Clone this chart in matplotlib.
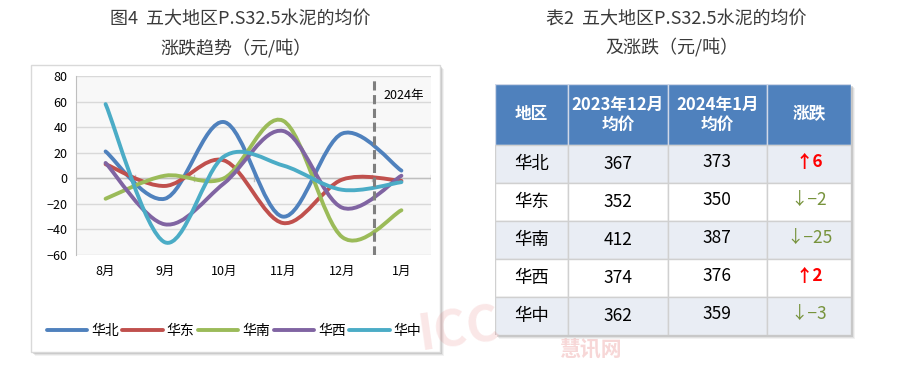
import numpy as np
import matplotlib
matplotlib.use("Agg")
import matplotlib.pyplot as plt
from matplotlib.path import Path
from matplotlib.patches import PathPatch, Rectangle
from matplotlib.lines import Line2D

plt.rcParams['font.family'] = ['Noto Sans CJK SC', 'DejaVu Sans']

# chart data (元/吨 change per month)
months = ['8月', '9月', '10月', '11月', '12月', '1月']
regions = ['华北', '华东', '华南', '华西', '华中']
huabei = [21, -16, 44, -30, 35, 6]
huadong = [11, -6, 14, -35, -1, -2]
huanan = [-16, 2, 0, 45, -46, -25]
huaxi = [12, -36, -4, 37, -23, 2]
huazhong = [58, -50, 17, 10, -9, -3]
colors = ['#4F81BD', '#C0504D', '#9BBB59', '#8064A2', '#4BACC6']

# table data
header = ['地区', '2023年12月\n均价', '2024年1月\n均价', '涨跌']
price_dec = [367, 352, 412, 374, 362]
price_jan = [373, 350, 387, 376, 359]
change = [6, -2, -25, 2, -3]

W, H = 900, 366
fig = plt.figure(figsize=(W / 100, H / 100), dpi=100)


def fx(px):
    return px / W


def fy(py):
    return 1 - py / H


def box(x0, y0, x1, y1, **kw):
    # rectangle in figure pixel coords (top-left origin)
    r = Rectangle((fx(x0), fy(y1)), fx(x1) - fx(x0), fy(y0) - fy(y1),
                  transform=fig.transFigure, **kw)
    fig.patches.append(r)
    return r


def smooth_path(xs, ys, k=1 / 6):
    pts = np.column_stack([xs, ys]).astype(float)
    n = len(pts)
    verts = [pts[0]]
    codes = [Path.MOVETO]
    for i in range(n - 1):
        p0 = pts[max(i - 1, 0)]
        p1 = pts[i]
        p2 = pts[i + 1]
        p3 = pts[min(i + 2, n - 1)]
        verts += [p1 + (p2 - p0) * k, p2 - (p3 - p1) * k, p2]
        codes += [Path.CURVE4] * 3
    return Path(verts, codes)


# ---- left chart frame with shadow ----
for d, a in [(4, 0.10), (3, 0.15), (2, 0.25)]:
    box(31 + d, 65 + d, 440 + d, 352 + d, facecolor='#808080', edgecolor='none', alpha=a, zorder=-2)
box(31, 65, 440, 352, facecolor='white', edgecolor='#D9D9D9', lw=1, zorder=-1)

fig.text(fx(240), fy(20), '图4  五大地区P.S32.5水泥的均价', ha='center', va='center',
         fontsize=13, color='#3A3A3A', fontweight='medium')
fig.text(fx(236), fy(48), '涨跌趋势（元/吨）', ha='center', va='center',
         fontsize=13, color='#3A3A3A', fontweight='medium')

ax = fig.add_axes([fx(76), fy(255), fx(431) - fx(76), fy(76) - fy(255)])
ax.set_zorder(2)
ax.set_facecolor('#F8F8F8')
ax.set_xlim(-0.5, 5.5)
ax.set_ylim(-60, 80)
ax.set_yticks(range(-60, 81, 20))
ax.grid(axis='y', color='#D9D9D9', lw=1)
ax.set_axisbelow(True)
for s in ['top', 'right', 'bottom']:
    ax.spines[s].set_visible(False)
ax.spines['left'].set_color('#BFBFBF')
ax.tick_params(axis='y', length=0, labelsize=9, pad=6, labelcolor='#000000')
ax.set_xticks(range(len(months)))
ax.set_xticklabels(months)
ax.tick_params(axis='x', length=0, labelsize=9, pad=7)

# category axis at zero with cross tick marks
ax.axhline(0, color='#BFBFBF', lw=1, zorder=1)
for b in np.arange(0.5, len(months), 1.0):
    ax.plot([b, b], [-2.5, 2.5], color='#BFBFBF', lw=1, zorder=1)

x = np.arange(len(months))
series = [huabei, huadong, huanan, huaxi, huazhong]
handles = []
for ys, c, name in zip(series, colors, regions):
    ax.add_patch(PathPatch(smooth_path(x, ys), facecolor='none', edgecolor=c,
                           lw=2.8, capstyle='round', zorder=3))
    handles.append(Line2D([], [], color=c, lw=2.8, solid_capstyle='round'))

ax.plot([4.53, 4.53], [-60, 77], color='#7F7F7F', lw=2.2, ls=(0, (3, 1.5)), zorder=4)
ax.text(4.7, 65, '2024年', fontsize=9, va='center', ha='left', zorder=5)

fig.legend(handles, regions, loc='center', bbox_to_anchor=(fx(234), fy(331)), ncol=5,
           frameon=False, fontsize=10, handlelength=2.9, handletextpad=0.3,
           columnspacing=0.25)

# ---- right table ----
fig.text(fx(676), fy(20), '表2  五大地区P.S32.5水泥的均价', ha='center', va='center',
         fontsize=13, color='#3A3A3A', fontweight='medium')
fig.text(fx(672), fy(47), '及涨跌（元/吨）', ha='center', va='center',
         fontsize=13, color='#3A3A3A', fontweight='medium')

for d, a in [(4, 0.10), (3, 0.15), (2, 0.25)]:
    box(495 + d, 84 + d, 851 + d, 335 + d, facecolor='#808080', edgecolor='none', alpha=a, zorder=-2)

tax = fig.add_axes([fx(495), fy(335), fx(851) - fx(495), fy(84) - fy(335)])
tax.set_zorder(2)
tax.set_xlim(0, 356)
tax.set_ylim(251, 0)
tax.axis('off')

col_w = [73, 99.5, 99.5, 84]
col_x = np.concatenate([[0], np.cumsum(col_w)])
head_h = 61
row_h = (251 - head_h) / len(regions)

for j, label in enumerate(header):
    tax.add_patch(Rectangle((col_x[j], 0), col_w[j], head_h, facecolor='#4F81BD',
                            edgecolor='#D0D8E8', lw=1))
    tax.text(col_x[j] + col_w[j] / 2, head_h / 2, label, ha='center', va='center',
             color='white', fontsize=12, fontweight='bold', linespacing=1.15)

for i, reg in enumerate(regions):
    y0 = head_h + i * row_h
    bg = '#E9EDF4' if i % 2 == 0 else 'white'
    for j in range(4):
        tax.add_patch(Rectangle((col_x[j], y0), col_w[j], row_h, facecolor=bg,
                                edgecolor='#D0D0D0', lw=1))
    cy = y0 + row_h / 2
    tax.text(col_x[0] + col_w[0] / 2, cy, reg, ha='center', va='center', fontsize=12.5)
    tax.text(col_x[1] + col_w[1] / 2, cy, str(price_dec[i]), ha='center', va='center', fontsize=12.5)
    tax.text(col_x[2] + col_w[2] / 2, cy - 2, str(price_jan[i]), ha='center', va='center', fontsize=12.5)
    c = change[i]
    if c > 0:
        txt, tc = f'↑{c}', '#FF0000'
    else:
        txt, tc = f'↓−{abs(c)}', '#77933C'
    tax.text(col_x[3] + col_w[3] / 2, cy - 2, txt, ha='center', va='center', fontsize=12.5,
             color=tc, fontweight='bold' if c > 0 else 'medium')

# faint watermark
fig.text(fx(415), fy(330), 'ICC', fontsize=36, fontweight='bold',
         color='#E06060', alpha=0.15, ha='left', va='center', rotation=8, zorder=10)
fig.text(fx(560), fy(350), '慧讯网', fontsize=15, fontweight='bold',
         color='#E06060', alpha=0.25, ha='left', va='center', zorder=10)

fig.savefig('out.png', dpi=100)
